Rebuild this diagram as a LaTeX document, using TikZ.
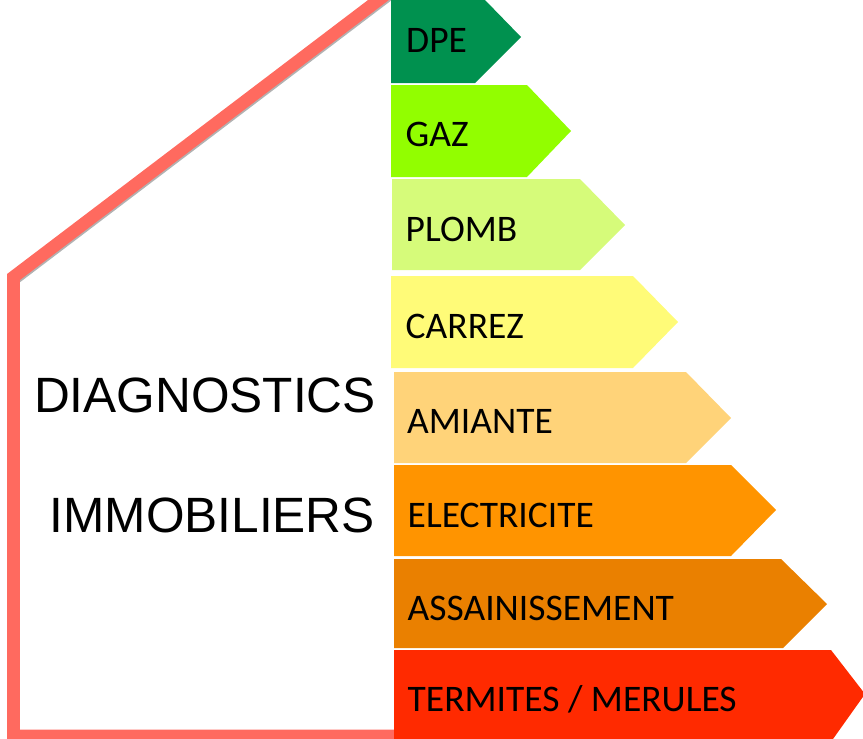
\documentclass[tikz,border=0pt]{standalone}
\usepackage{fontspec}
\setmainfont{Carlito}
\newfontfamily\titlefont{Liberation Sans}
\usepackage{tikz}
\pgfdeclarelayer{background}
\pgfdeclarelayer{foreground}
\pgfsetlayers{background,main,foreground}
\definecolor{wallcol}{HTML}{FF6A5F}
\definecolor{dpecol}{HTML}{00914F}
\definecolor{gazcol}{HTML}{92FE00}
\definecolor{plombcol}{HTML}{D6FB7A}
\definecolor{carrezcol}{HTML}{FFFB78}
\definecolor{amiantecol}{HTML}{FFD379}
\definecolor{eleccol}{HTML}{FF9400}
\definecolor{assaincol}{HTML}{EA8000}
\definecolor{termitecol}{HTML}{FF2A00}

\begin{document}
\begin{tikzpicture}[
						x=1pt,y=-1pt,
						wall/.style={draw=wallcol, line width=12.6pt, line join=miter},
						wallshadow/.style={draw=black!30, line width=12.6pt},
						labelnode/.style={anchor=base west, inner sep=0pt, text=black, font=\fontsize{37.5}{38}\selectfont},
						titlenode/.style={anchor=base east, inner sep=0pt, text=black, font=\titlefont\fontsize{49.6}{50}\selectfont},
						]
						\useasboundingbox (0,0) rectangle (863,739);
						%Nodes
						\coordinate           (roof) 	at 	(391,-9.5);
						\coordinate           (eave) 	at 	(13.5,277);
						\coordinate           (foot) 	at 	(13.5,736);
						\coordinate           (base) 	at 	(394,736);
						\node[titlenode]      (title1) 	at 	(376,412)        {DIAGNOSTICS};
						\node[titlenode]      (title2) 	at 	(375,532)        {IMMOBILIERS};

						\begin{pgfonlayer}{background}
						%Lines
						\draw[wallshadow,transform canvas={shift={(1pt,-1.5pt)}}] (roof) -- (eave);
						\draw[wall] (roof) -- (eave) -- (foot) -- (base);
						\end{pgfonlayer}

						%Arrows
						\fill[dpecol] (391,0) -- (485,0) -- (521,37) -- (475,83) -- (391,83) -- cycle;
						\fill[gazcol] (391,85) -- (527,85) -- (571,131) -- (527,177) -- (391,177) -- cycle;
						\fill[plombcol] (392,179) -- (580,179) -- (625,225) -- (580,270) -- (392,270) -- cycle;
						\fill[carrezcol] (391,276) -- (633,276) -- (678,322) -- (633,368) -- (391,368) -- cycle;
						\fill[amiantecol] (394,372) -- (686,372) -- (731,418) -- (686,463) -- (394,463) -- cycle;
						\fill[eleccol] (394,465) -- (731,465) -- (776,510) -- (731,556) -- (394,556) -- cycle;
						\fill[assaincol] (394,559) -- (781,559) -- (827,604) -- (783,648) -- (394,648) -- cycle;
						\fill[termitecol] (394,650) -- (831,650) -- (865,694) -- (833,739) -- (394,739) -- cycle;

						%Labels
						\node[labelnode]      (dpe) 	at 	(406,52)        {DPE};
						\node[labelnode]      (gaz) 	at 	(405.5,146)     {GAZ};
						\node[labelnode]      (plomb) 	at 	(405.5,241)     {PLOMB};
						\node[labelnode]      (carrez) 	at 	(405.5,338)     {CARREZ};
						\node[labelnode]      (amiante) at 	(407,433)       {AMIANTE};
						\node[labelnode]      (elec) 	at 	(407.5,527)     {ELECTRICITE};
						\node[labelnode]      (assain) 	at 	(407.5,620)     {ASSAINISSEMENT};
						\node[labelnode]      (termite) at 	(407.5,711)     {TERMITES / MERULES};
					\end{tikzpicture}
\end{document}
